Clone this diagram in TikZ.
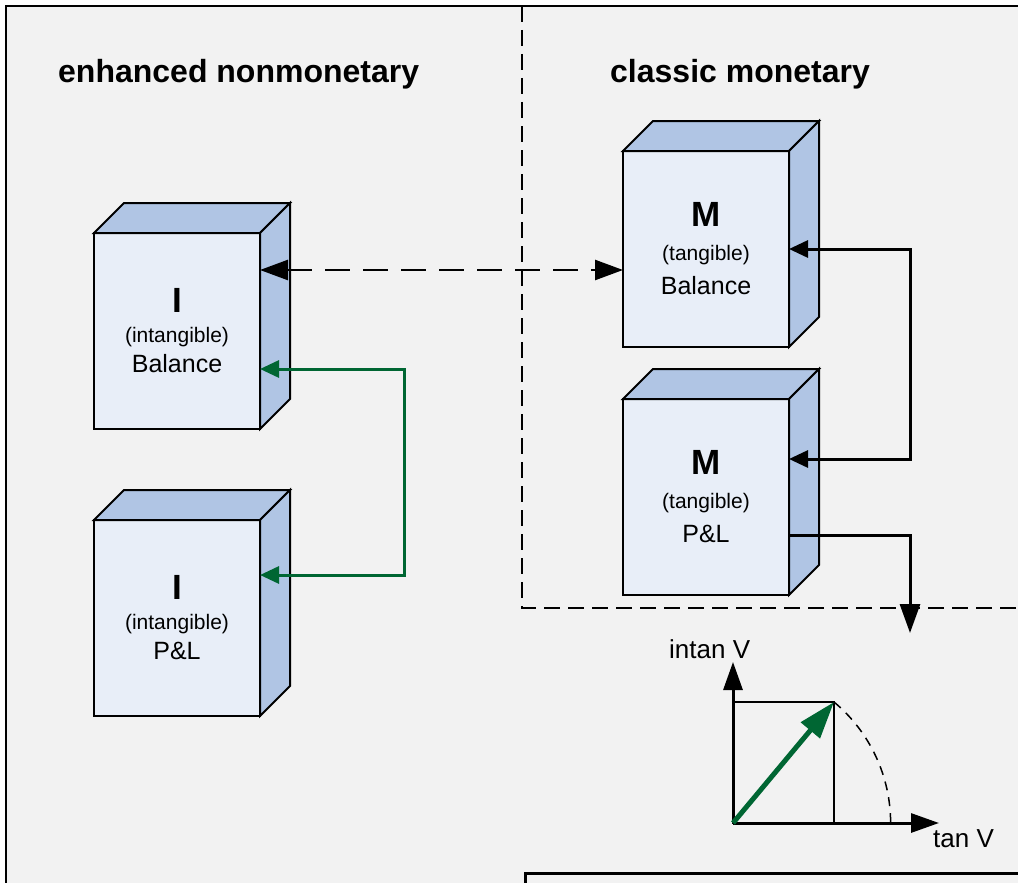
\documentclass[tikz,border=0pt]{standalone}
\usepackage{fontspec}
\setmainfont{Liberation Sans}
\usetikzlibrary{positioning, arrows.meta}
\definecolor{panelcol}{HTML}{F2F2F2}
\definecolor{frontcol}{HTML}{E8EEF8}
\definecolor{sidecol}{HTML}{B0C5E4}
\definecolor{flowcol}{HTML}{006633}
\newcommand{\acctlabel}[3]{\fontsize{35}{35}\selectfont\bfseries #1\\\fontsize{21}{21}\selectfont (#2)\\\fontsize{25}{25}\selectfont #3}

\begin{document}
\begin{tikzpicture}[
			x=1pt, y=-1pt,
			front/.style={
				draw,
				line width=2pt,
				fill=frontcol,
				minimum width=166pt,
				minimum height=196pt,
				inner sep=0pt,
				outer sep=0pt,
				align=center,
				font=\fontsize{25}{#1}\selectfont
			},
			face/.style={
				draw,
				line width=2pt,
				fill=sidecol
			},
			heading/.style={
				anchor=base west,
				inner sep=0pt,
				font=\fontsize{32}{36}\selectfont\bfseries
			},
			axislabel/.style={
				anchor=base west,
				inner sep=0pt,
				font=\fontsize{26}{30}\selectfont
			},
			flowline/.style={
				draw=black,
				line width=3pt,
				{Triangle[length=19pt,width=17pt]}-{Triangle[length=19pt,width=17pt]}
			},
			greenline/.style={
				flowline,
				draw=flowcol
			},
			dashline/.style={
				line width=2.5pt,
				dash pattern=on 25pt off 13pt,
				{Triangle[length=28pt,width=20pt]}-{Triangle[length=28pt,width=20pt]}
			},
			outflow/.style={
				line width=3pt,
				-{Triangle[length=29pt,width=20pt]}
			},
			divider/.style={
				line width=1.5pt,
				dash pattern=on 16pt off 8pt
			},
			axisline/.style={
				line width=3pt,
				-{Triangle[length=28pt,width=19pt]}
			},
			vector/.style={
				draw=flowcol,
				line width=5pt,
				-{Triangle[length=37pt,width=24pt]}
			}
			]
			\useasboundingbox (0,0) rectangle (1018,883);
			\clip (0,0) rectangle (1018,883);
			
			% Panels
			\fill[white] (0,0) rectangle (1018,883);
			\fill[panelcol] (6,6) rectangle (1018,883);
			\draw[line width=2pt] (6,883) -- (6,6) -- (1018,6);
			\draw[divider] (522,6) -- (522,608) -- (1018,608);
			\draw[line width=3pt, fill=panelcol] (525,873) rectangle (1040,900);
			\node[heading] (leftHead) at (58,83) {enhanced nonmonetary};
			\node[heading] (rightHead) at (610,83) {classic monetary};
			
			% Accounts
			\node[front=30pt] (iBal) at (177,331) {\acctlabel{I}{intangible}{Balance}};
			\node[front=30pt, below=91pt of iBal] (iPL) {\acctlabel{I}{intangible}{P\&L}};
			\node[front=34pt] (mBal) at (706,249) {\acctlabel{M}{tangible}{Balance}};
			\node[front=34pt, below=52pt of mBal] (mPL) {\acctlabel{M}{tangible}{P\&L}};
			\foreach \b in {iBal, iPL, mBal, mPL} {
				\filldraw[face] (\b.north west) -- ++(30,-30) -- ++(166,0) -- ++(-30,30) -- cycle;
				\filldraw[face] (\b.north east) -- ++(30,-30) -- ++(0,196) -- ++(-30,30) -- cycle;
			}
			
			% Flows
			\coordinate (outlet) at (910,633);
			\draw[dashline] ([yshift=61pt]iBal.east) -- ([yshift=61pt]iBal.east -| mBal.west);
			\draw[greenline] ([yshift=-38pt]iBal.east) -- ++(144,0) |- ([yshift=43pt]iPL.east);
			\draw[flowline] (mBal.east) -- ++(121,0) |- ([yshift=38pt]mPL.east);
			\draw[outflow] ([yshift=-38pt]mPL.east) -| (outlet);
			
			% Value diagram
			\coordinate (o) at (733,823);
			\coordinate (ytip) at (733,662);
			\coordinate (xtip) at (939,823);
			\coordinate (v) at (834,702);
			\draw[line width=1.5pt] (o) rectangle (v);
			\draw[line width=1.5pt, dash pattern=on 9pt off 7pt] (v) arc[start angle=-50.15, end angle=0, radius=157.6];
			\draw[axisline] (o) -- (ytip);
			\draw[axisline] (o) -- (xtip);
			\draw[vector] (o) -- (v);
			\node[axislabel] (ylab) at (669,658) {intan V};
			\node[axislabel] (xlab) at (933,847) {tan V};
		\end{tikzpicture}
\end{document}
